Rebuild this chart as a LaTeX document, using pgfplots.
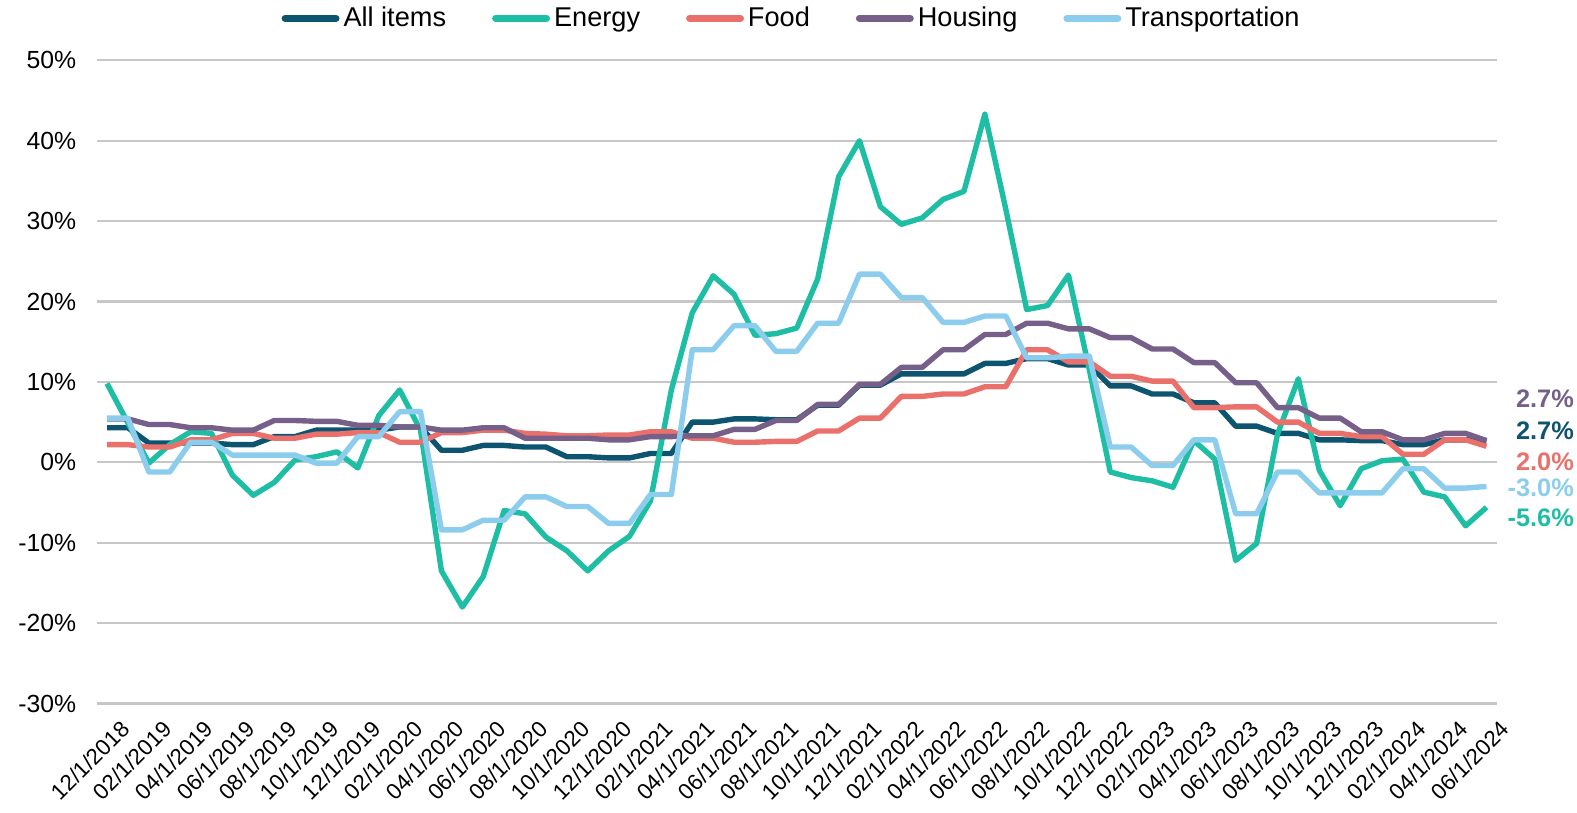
\documentclass[border=0pt]{standalone}
\usepackage{fontspec}
\setmainfont{Liberation Sans}
\usepackage{pgfplots}
\usepackage{pgfplotstable}
\pgfplotsset{compat=1.18}
\definecolor{cAll}{RGB}{13,84,112}
\definecolor{cEnergy}{RGB}{30,190,165}
\definecolor{cFood}{RGB}{234,112,107}
\definecolor{cHousing}{RGB}{118,96,138}
\definecolor{cTrans}{RGB}{140,205,238}
\pgfplotstableread{
i A E F H T
0 4.3 9.8 2.2 5.4 5.5
1 4.3 4.9 2.2 5.4 5.5
2 2.4 -0.1 1.9 4.7 -1.2
3 2.4 2.2 1.9 4.7 -1.2
4 2.4 3.8 2.8 4.3 2.5
5 2.4 3.6 2.8 4.3 2.5
6 2.2 -1.6 3.6 4.0 0.9
7 2.2 -4.1 3.6 4.0 0.9
8 3.2 -2.5 3.0 5.2 0.9
9 3.2 0.3 3.0 5.2 0.9
10 4.0 0.7 3.5 5.1 -0.1
11 4.0 1.3 3.5 5.1 -0.1
12 4.0 -0.7 3.7 4.6 3.2
13 4.0 5.8 3.7 4.6 3.2
14 4.4 9.0 2.5 4.4 6.3
15 4.4 4.0 2.5 4.4 6.3
16 1.5 -13.5 3.7 4.0 -8.4
17 1.5 -18.0 3.7 4.0 -8.4
18 2.1 -14.2 4.0 4.3 -7.2
19 2.1 -6.0 4.0 4.3 -7.2
20 1.9 -6.4 3.6 3.0 -4.3
21 1.9 -9.3 3.5 3.0 -4.3
22 0.7 -11.0 3.3 3.0 -5.5
23 0.7 -13.5 3.3 3.0 -5.5
24 0.55 -11.0 3.4 2.8 -7.6
25 0.55 -9.2 3.4 2.8 -7.6
26 1.1 -4.8 3.8 3.2 -4.0
27 1.1 9.0 3.8 3.2 -4.0
28 5.0 18.6 3.0 3.3 14.0
29 5.0 23.2 3.0 3.3 14.0
30 5.4 20.9 2.5 4.1 17.0
31 5.4 15.8 2.5 4.1 17.0
32 5.3 16.0 2.6 5.2 13.8
33 5.3 16.7 2.6 5.2 13.8
34 7.1 22.8 3.9 7.2 17.3
35 7.1 35.5 3.9 7.2 17.3
36 9.6 40.0 5.5 9.7 23.4
37 9.6 31.8 5.5 9.7 23.4
38 11.0 29.6 8.2 11.8 20.5
39 11.0 30.4 8.2 11.8 20.5
40 11.0 32.7 8.5 14.0 17.4
41 11.0 33.7 8.5 14.0 17.4
42 12.3 43.3 9.4 15.9 18.2
43 12.3 31.5 9.4 15.9 18.2
44 12.9 19.0 14.0 17.3 13.0
45 12.9 19.5 14.0 17.3 13.0
46 12.1 23.3 12.5 16.6 13.2
47 12.1 11.5 12.5 16.6 13.2
48 9.5 -1.2 10.7 15.5 1.9
49 9.5 -1.9 10.7 15.5 1.9
50 8.5 -2.3 10.1 14.1 -0.4
51 8.5 -3.1 10.1 14.1 -0.4
52 7.4 2.7 6.8 12.4 2.8
53 7.4 0.4 6.8 12.4 2.8
54 4.5 -12.2 6.9 9.9 -6.4
55 4.5 -10.1 6.9 9.9 -6.4
56 3.6 3.5 5.0 6.8 -1.2
57 3.6 10.4 5.0 6.8 -1.2
58 2.8 -1.0 3.6 5.5 -3.8
59 2.8 -5.4 3.6 5.5 -3.8
60 2.7 -0.8 3.2 3.8 -3.8
61 2.7 0.2 3.2 3.8 -3.8
62 2.2 0.4 1.0 2.8 -0.8
63 2.2 -3.7 1.0 2.8 -0.8
64 2.8 -4.3 2.8 3.6 -3.2
65 2.8 -7.9 2.8 3.6 -3.2
66 2.7 -5.6 2.0 2.7 -3.0
}\cpidata
\begin{document}
\begin{tikzpicture}
\begin{axis}[
  scale only axis,
  width=701pt, height=322pt,
  xmin=-0.5, xmax=66.5, ymin=-30, ymax=50,
  axis line style={draw=none},
  major tick length=0pt,
  clip=false,
  ytick={-30,-20,...,50},
  yticklabels={-30\%,-20\%,-10\%,0\%,10\%,20\%,30\%,40\%,50\%},
  yticklabel style={font=\fontsize{12.4}{14}\selectfont, inner sep=0pt, xshift=-10pt},
  ymajorgrids,
  grid style={line width=1.1pt, color=black!22},
  xtick={0,2,...,66},
  xticklabels={12/1/2018,02/1/2019,04/1/2019,06/1/2019,08/1/2019,10/1/2019,12/1/2019,02/1/2020,04/1/2020,06/1/2020,08/1/2020,10/1/2020,12/1/2020,02/1/2021,04/1/2021,06/1/2021,08/1/2021,10/1/2021,12/1/2021,02/1/2022,04/1/2022,06/1/2022,08/1/2022,10/1/2022,12/1/2022,02/1/2023,04/1/2023,06/1/2023,08/1/2023,10/1/2023,12/1/2023,02/1/2024,04/1/2024,06/1/2024},
  xticklabel style={rotate=45, anchor=north east, inner sep=0pt, yshift=-10pt, xshift=-1pt, font=\fontsize{11.2}{13}\selectfont},
  legend columns=5,
  legend style={at={(axis description cs:0.497,1)}, anchor=center, yshift=21pt,
    draw=none, fill=none, font=\fontsize{13.6}{15}\selectfont,
    /tikz/every even column/.append style={column sep=21pt},
    nodes={inner xsep=2pt, inner ysep=0pt}},
  legend image code/.code={\draw[#1, line width=3.5pt, line cap=round] (1.75pt,0pt) -- (27.25pt,0pt);},
  every axis plot/.append style={line width=2.7pt, line join=round, mark=none},
]
\addplot[color=cAll] table[x=i, y=A] {\cpidata};
\addlegendentry{All items}
\addplot[color=cEnergy] table[x=i, y=E] {\cpidata};
\addlegendentry{Energy}
\addplot[color=cFood] table[x=i, y=F] {\cpidata};
\addlegendentry{Food}
\addplot[color=cHousing] table[x=i, y=H] {\cpidata};
\addlegendentry{Housing}
\addplot[color=cTrans] table[x=i, y=T] {\cpidata};
\addlegendentry{Transportation}
\node[anchor=east, inner sep=0pt, text=cHousing, font=\bfseries\fontsize{12.7}{14}\selectfont] at (axis cs:70.2,7.95) {2.7\%};
\node[anchor=east, inner sep=0pt, text=cAll, font=\bfseries\fontsize{12.7}{14}\selectfont] at (axis cs:70.2,3.98) {2.7\%};
\node[anchor=east, inner sep=0pt, text=cFood, font=\bfseries\fontsize{12.7}{14}\selectfont] at (axis cs:70.2,0.12) {2.0\%};
\node[anchor=east, inner sep=0pt, text=cTrans, font=\bfseries\fontsize{12.7}{14}\selectfont] at (axis cs:70.2,-3.17) {-3.0\%};
\node[anchor=east, inner sep=0pt, text=cEnergy, font=\bfseries\fontsize{12.7}{14}\selectfont] at (axis cs:70.2,-6.89) {-5.6\%};
\coordinate (bbl) at (axis cs:-5.12,-43.6);
\coordinate (btr) at (axis cs:70.33,57.5);
\end{axis}
\pgfresetboundingbox
\path (bbl) rectangle (btr);
\end{tikzpicture}
\end{document}
